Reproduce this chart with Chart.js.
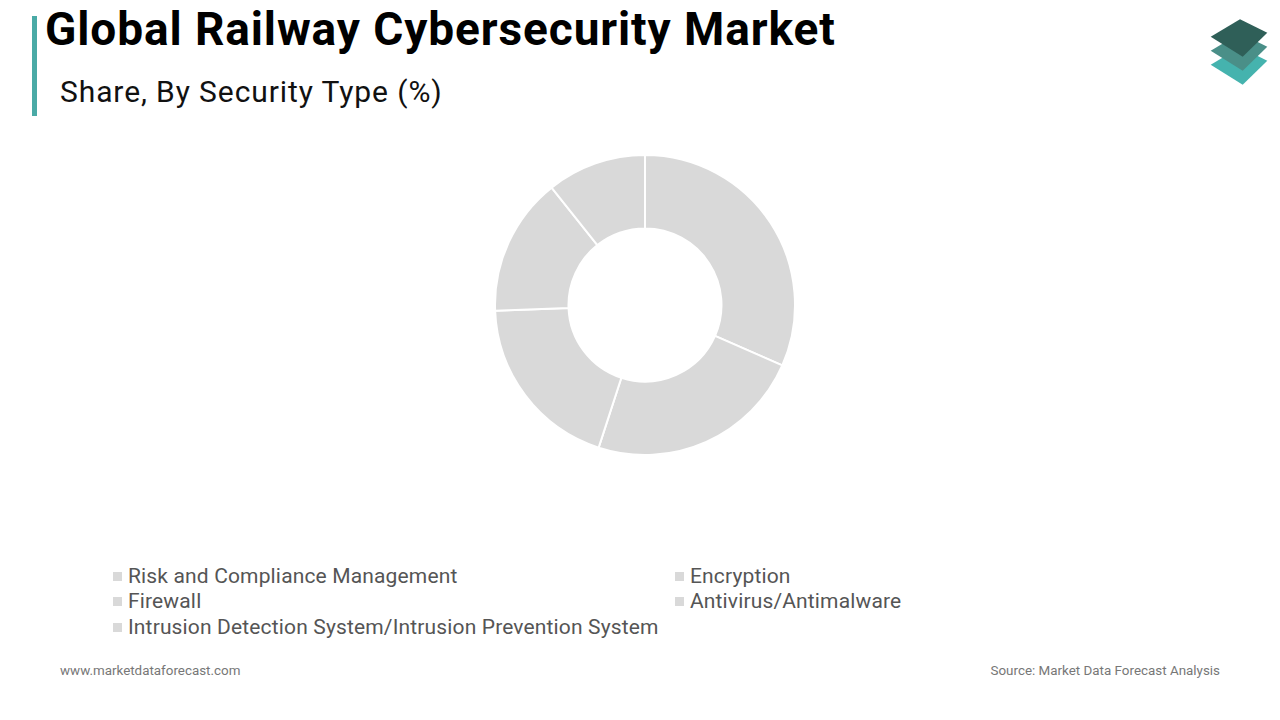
<!DOCTYPE html>
<html>
<head>
<meta charset="utf-8">
<script src="https://cdn.jsdelivr.net/npm/chart.js@4/dist/chart.umd.min.js"></script>
<style>
  html, body { margin: 0; padding: 0; background: #ffffff; }
  body { width: 1280px; height: 720px; position: relative; overflow: hidden; font-family: Roboto, "Liberation Sans", sans-serif; }
  #bar { position: absolute; left: 32px; top: 16px; width: 5px; height: 100px; background: #4aaaa6; }
  #title { position: absolute; left: 45px; top: 2px; font-size: 46px; font-weight: 700; color: #000; white-space: nowrap; letter-spacing: 0.9px; }
  #subtitle { position: absolute; left: 60px; top: 74px; font-size: 30px; font-weight: 400; color: #111; white-space: nowrap; letter-spacing: 0.9px; }
  #chartBox { position: absolute; left: 494px; top: 154px; width: 302px; height: 302px; }
  .leg { position: absolute; font-size: 21px; color: #555; white-space: nowrap; line-height: 24px; letter-spacing: 0.15px; }
  .leg span.box { display: inline-block; width: 9px; height: 9px; background: #d9d9d9; margin-right: 6px; vertical-align: 2px; }
  #footL { position: absolute; left: 60px; top: 663px; font-size: 13.4px; color: #777; }
  #footR { position: absolute; right: 60px; top: 663px; font-size: 13.4px; color: #777; }
  #logo { position: absolute; left: 1204px; top: 10px; }
</style>
</head>
<body>
<div id="bar"></div>
<div id="title">Global Railway Cybersecurity Market</div>
<div id="subtitle">Share, By Security Type (%)</div>
<svg id="logo" width="70" height="80" viewBox="0 0 70 80">
  <polygon points="6.7,54.7 36,37.3 63.3,50.7 38.7,74.7" fill="#45b3ae"/>
  <polygon points="6.7,40.7 36,23.3 63.3,36.7 38.7,60.7" fill="#4a8f88"/>
  <polygon points="6.7,26.7 36,9.3 63.3,22.7 38.7,46.7" fill="#2f5f58"/>
</svg>
<div id="chartBox"><canvas id="c"></canvas></div>
<div id="legend"></div>
<div id="footL">www.marketdataforecast.com</div>
<div id="footR">Source: Market Data Forecast Analysis</div>
<script>
const categories = [
  "Risk and Compliance Management",
  "Encryption",
  "Firewall",
  "Antivirus/Antimalware",
  "Intrusion Detection System/Intrusion Prevention System"
];
const shares = [31.6, 23.4, 19.4, 14.9, 10.7];
const sliceColors = ["#d9d9d9", "#d9d9d9", "#d9d9d9", "#d9d9d9", "#d9d9d9"];

new Chart(document.getElementById('c'), {
  type: 'doughnut',
  data: {
    labels: categories,
    datasets: [{
      data: shares,
      backgroundColor: sliceColors,
      borderColor: '#ffffff',
      borderWidth: 2,
      hoverOffset: 0
    }]
  },
  options: {
    responsive: true,
    maintainAspectRatio: false,
    animation: false,
    cutout: '51%',
    layout: { padding: 0 },
    plugins: { legend: { display: false }, tooltip: { enabled: false } }
  }
});

// Legend (2 columns, row-major)
const legend = document.getElementById('legend');
const colX = [113, 675];
const rowY = [564, 589, 615];
categories.forEach((name, i) => {
  const d = document.createElement('div');
  d.className = 'leg';
  d.style.left = colX[i % 2] + 'px';
  d.style.top = rowY[Math.floor(i / 2)] + 'px';
  const b = document.createElement('span');
  b.className = 'box';
  b.style.background = sliceColors[i];
  d.appendChild(b);
  d.appendChild(document.createTextNode(name));
  legend.appendChild(d);
});
</script>
</body>
</html>
